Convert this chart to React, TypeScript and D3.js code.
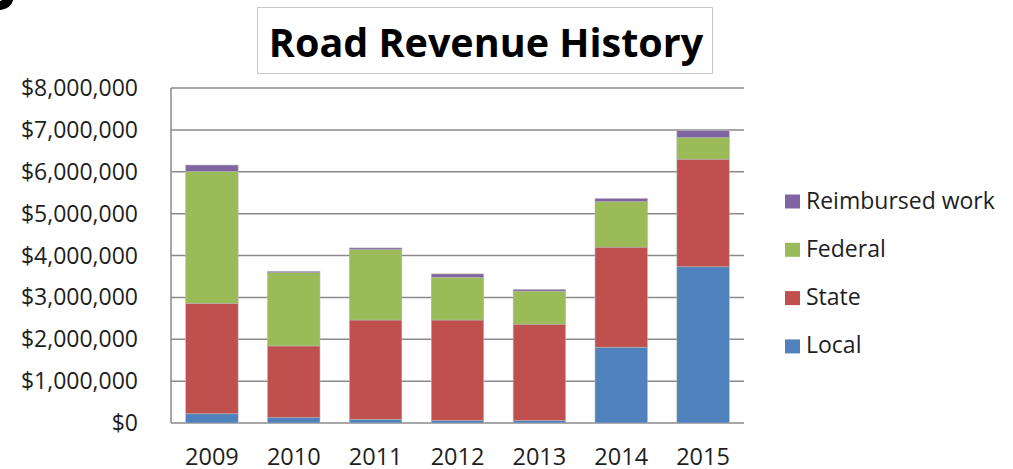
import React, { useEffect, useRef } from 'react';
import * as d3 from 'd3';

// values (dollars)
const years = ['2009', '2010', '2011', '2012', '2013', '2014', '2015'];
const local = [220000, 130000, 90000, 60000, 60000, 1810000, 3730000];
const state = [2640000, 1710000, 2370000, 2400000, 2300000, 2390000, 2570000];
const federal = [3150000, 1750000, 1680000, 1020000, 790000, 1090000, 520000];
const reimbursed = [150000, 30000, 40000, 80000, 40000, 70000, 160000];

const seriesNames = ['Local', 'State', 'Federal', 'Reimbursed work'];
const seriesColors = ['#4F81BD', '#C0504D', '#9BBB59', '#8064A2'];
const yTicks = [0, 1000000, 2000000, 3000000, 4000000, 5000000, 6000000, 7000000, 8000000];

const FONT = '"Open Sans", "Liberation Sans", sans-serif';

export default function App() {
  const ref = useRef<SVGSVGElement>(null);

  useEffect(() => {
    const svg = d3.select(ref.current);
    svg.selectAll('*').remove();

    const left = 171, right = 744, top = 88, bottom = 423;

    const table = years.map((y, i) => ({
      year: y,
      Local: local[i],
      State: state[i],
      Federal: federal[i],
      'Reimbursed work': reimbursed[i],
    }));
    const stacked = d3.stack<any>().keys(seriesNames)(table);

    const x = d3.scaleBand().domain(years).range([left, right]).paddingInner(0.36).paddingOuter(0.18);
    const y = d3.scaleLinear().domain([0, 8000000]).range([bottom, top]);

    // partial glyph at the top-left corner of the slide
    svg.append('text')
      .attr('x', -22).attr('y', 10)
      .style('font-family', FONT).style('font-weight', 700).style('font-size', '70px')
      .attr('fill', '#000').text('S');

    // title box
    svg.append('rect')
      .attr('x', 257.5).attr('y', 7.5).attr('width', 455).attr('height', 66)
      .attr('fill', '#fff').attr('stroke', '#c8c8c8').attr('stroke-width', 1);
    svg.append('text')
      .attr('x', 486).attr('y', 57)
      .attr('text-anchor', 'middle')
      .style('font-family', FONT).style('font-weight', 700).style('font-size', '39.5px')
      .attr('fill', '#000').text('Road Revenue History');

    // gridlines
    svg.append('g').selectAll('line').data(yTicks).join('line')
      .attr('x1', left).attr('x2', right)
      .attr('y1', d => y(d)).attr('y2', d => y(d))
      .attr('stroke', '#8a8a8a').attr('stroke-width', 1.5);

    // left axis line
    svg.append('line')
      .attr('x1', left).attr('x2', left).attr('y1', top).attr('y2', bottom)
      .attr('stroke', '#8a8a8a').attr('stroke-width', 1.5);

    // y labels
    svg.append('g').selectAll('text').data(yTicks).join('text')
      .attr('x', 138).attr('y', d => y(d))
      .attr('dy', '0.35em').attr('text-anchor', 'end')
      .style('font-family', FONT).style('font-size', '23px')
      .attr('fill', '#1e1e1e')
      .text(d => d3.format('$,')(d));

    // bars
    svg.append('g').selectAll('g').data(stacked).join('g')
      .attr('fill', (d, i) => seriesColors[i])
      .selectAll('rect').data(d => d).join('rect')
      .attr('x', d => x(d.data.year) as number)
      .attr('width', x.bandwidth())
      .attr('y', d => y(d[1]))
      .attr('height', d => y(d[0]) - y(d[1]))
      .attr('stroke', '#b4b4b4').attr('stroke-width', 0.6);

    // x labels
    svg.append('g').selectAll('text').data(years).join('text')
      .attr('x', d => (x(d) as number) + x.bandwidth() / 2)
      .attr('y', 465)
      .attr('text-anchor', 'middle')
      .style('font-family', FONT).style('font-size', '23.5px')
      .attr('fill', '#1e1e1e')
      .text(d => d);

    // legend (top to bottom: reverse of stack order)
    const legendItems = seriesNames.map((n, i) => ({ name: n, color: seriesColors[i] })).reverse();
    const lg = svg.append('g').selectAll('g').data(legendItems).join('g')
      .attr('transform', (d, i) => `translate(0, ${208.5 + i * 48.3})`);
    lg.append('rect')
      .attr('x', 785).attr('y', -14).attr('width', 15).attr('height', 14)
      .attr('fill', d => d.color);
    lg.append('text')
      .attr('x', 806).attr('y', 0)
      .style('font-family', FONT).style('font-size', '23px')
      .attr('fill', '#1e1e1e')
      .text(d => d.name);
  }, []);

  return (
    <svg ref={ref} width={1013} height={469}
      style={{ position: 'absolute', left: 0, top: 0, background: '#fff' }} />
  );
}
